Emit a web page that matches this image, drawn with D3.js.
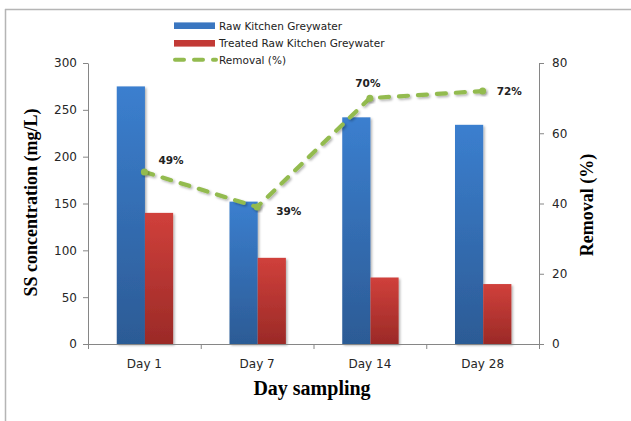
<!DOCTYPE html>
<html>
<head>
<meta charset="utf-8">
<script src="https://cdn.jsdelivr.net/npm/d3@7/dist/d3.min.js"></script>
<style>
  html, body { margin: 0; padding: 0; background: #fff; }
  svg { display: block; }
  .tick text { font-family: "DejaVu Sans", Verdana, sans-serif; font-size: 12px; fill: #262626; }
</style>
</head>
<body>
<svg id="chart" width="631" height="421"></svg>
<script>
// Suspended solids in kitchen greywater over the sampling period
const days = ["Day 1", "Day 7", "Day 14", "Day 28"];
const rawSS = [275, 152, 242, 234];
const treatedSS = [140, 92, 71, 64];
const removal = [49, 39, 70, 72];
const ssTicks = [0, 50, 100, 150, 200, 250, 300];
const removalTicks = [0, 20, 40, 60, 80];
const seriesNames = ["Raw Kitchen Greywater", "Treated Raw Kitchen Greywater", "Removal (%)"];

const svg = d3.select("#chart");
const plot = { left: 88, right: 539, top: 63, bottom: 344 };

const defs = svg.append("defs");
function gradient(id, top, bottom) {
  const g = defs.append("linearGradient").attr("id", id)
    .attr("x1", 0).attr("y1", 0).attr("x2", 0).attr("y2", 1);
  g.append("stop").attr("offset", "0%").attr("stop-color", top);
  g.append("stop").attr("offset", "100%").attr("stop-color", bottom);
}
gradient("gBlue", "#3b7fcf", "#2c5b95");
gradient("gRed", "#d0403b", "#9b2a27");
const sh = defs.append("filter").attr("id", "shadow")
  .attr("x", "-20%").attr("y", "-20%").attr("width", "150%").attr("height", "150%");
sh.append("feDropShadow").attr("dx", 1.5).attr("dy", 1.5)
  .attr("stdDeviation", 1.2).attr("flood-color", "#000").attr("flood-opacity", 0.3);

// Outer frame
svg.append("line").attr("x1", 5).attr("x2", 631).attr("y1", 9.5).attr("y2", 9.5)
  .attr("stroke", "#b5b5b5").attr("stroke-width", 1.5);
svg.append("line").attr("x1", 5.5).attr("x2", 5.5).attr("y1", 9).attr("y2", 421)
  .attr("stroke", "#b5b5b5").attr("stroke-width", 1.5);

// Scales
const x = d3.scaleBand().domain(days).range([plot.left, plot.right]).padding(0);
const bw = x.bandwidth();
const xSub = d3.scaleBand().domain([0, 1]).range([bw * 0.255, bw * 0.755]).padding(0);
const yL = d3.scaleLinear().domain([0, 300]).range([plot.bottom, plot.top]);
const yR = d3.scaleLinear().domain([0, 80]).range([plot.bottom, plot.top]);

// Bars
const bars = svg.append("g");
const seriesVals = [rawSS, treatedSS];
const fills = ["url(#gBlue)", "url(#gRed)"];
seriesVals.forEach((vals, si) => {
  bars.selectAll(null).data(vals).enter().append("rect")
    .attr("x", (d, i) => x(days[i]) + xSub(si))
    .attr("width", xSub.bandwidth())
    .attr("y", d => yL(d))
    .attr("height", d => yL(0) - yL(d))
    .attr("fill", fills[si])
    .attr("filter", "url(#shadow)");
});

// Axes
const axisColor = "#868686";
const gL = svg.append("g").attr("transform", `translate(${plot.left},0)`)
  .call(d3.axisLeft(yL).tickValues(ssTicks).tickSize(5).tickSizeOuter(0).tickPadding(6));
const gR = svg.append("g").attr("transform", `translate(${plot.right},0)`)
  .call(d3.axisRight(yR).tickValues(removalTicks).tickSize(5).tickSizeOuter(0).tickPadding(8));
const gX = svg.append("g").attr("transform", `translate(0,${plot.bottom})`)
  .call(d3.axisBottom(x).tickSize(0).tickPadding(15));
gX.select(".domain").remove();
[gL, gR].forEach(g => {
  g.select(".domain").attr("stroke", axisColor);
  g.selectAll(".tick line").attr("stroke", axisColor);
});
// category axis line with ticks on the category boundaries
svg.append("line").attr("x1", plot.left).attr("x2", plot.right)
  .attr("y1", plot.bottom + 0.5).attr("y2", plot.bottom + 0.5).attr("stroke", axisColor);
const bounds = days.map(d => x(d)).concat([x.range()[1]]);
svg.selectAll(null).data(bounds).enter().append("line")
  .attr("x1", d => d + 0.5).attr("x2", d => d + 0.5)
  .attr("y1", plot.bottom).attr("y2", plot.bottom + 5).attr("stroke", axisColor);

// Removal line
const cx = i => x(days[i]) + bw / 2;
const green = "#93bb4f";
const line = d3.line().x((d, i) => cx(i)).y(d => yR(d));
svg.append("path").datum(removal)
  .attr("d", line).attr("fill", "none")
  .attr("stroke", green).attr("stroke-width", 4.2)
  .attr("stroke-linecap", "round").attr("stroke-dasharray", "9,10")
  .attr("filter", "url(#shadow)");
svg.selectAll(null).data(removal).enter().append("circle")
  .attr("cx", (d, i) => cx(i)).attr("cy", d => yR(d)).attr("r", 3.5)
  .attr("fill", green).attr("filter", "url(#shadow)");

// Value labels beside each point
const labelOffset = [[14, -8, "start"], [19, 8, "start"], [-2, -11, "middle"], [14, 3.5, "start"]];
svg.selectAll(null).data(removal).enter().append("text")
  .attr("x", (d, i) => cx(i) + labelOffset[i][0])
  .attr("y", (d, i) => yR(d) + labelOffset[i][1])
  .attr("text-anchor", (d, i) => labelOffset[i][2])
  .attr("font-family", "DejaVu Sans, Verdana, sans-serif")
  .attr("font-size", "10.5px").attr("font-weight", "bold").attr("fill", "#222")
  .text(d => d + "%");

// Axis titles
const serif = "'Liberation Serif', 'Times New Roman', serif";
svg.append("text").attr("transform", "translate(37,202.5) rotate(-90)")
  .attr("text-anchor", "middle").attr("font-family", serif).attr("font-weight", "bold")
  .attr("font-size", "18px").attr("fill", "#000").text("SS concentration (mg/L)");
svg.append("text").attr("transform", "translate(593,205) rotate(-90)")
  .attr("text-anchor", "middle").attr("font-family", serif).attr("font-weight", "bold")
  .attr("font-size", "18px").attr("fill", "#000").text("Removal (%)");
svg.append("text").attr("x", 312).attr("y", 395)
  .attr("text-anchor", "middle").attr("font-family", serif).attr("font-weight", "bold")
  .attr("font-size", "20px").attr("fill", "#000").text("Day sampling");

// Legend
const legY = [25.7, 43.3, 59.8];
const leg = svg.append("g");
leg.append("rect").attr("x", 174).attr("y", legY[0] - 3.3).attr("width", 41).attr("height", 6.6).attr("fill", "#3a76c0");
leg.append("rect").attr("x", 174).attr("y", legY[1] - 3.3).attr("width", 41).attr("height", 6.6).attr("fill", "#c23a36");
leg.append("line").attr("x1", 175).attr("x2", 216).attr("y1", legY[2]).attr("y2", legY[2])
  .attr("stroke", green).attr("stroke-width", 4).attr("stroke-linecap", "round")
  .attr("stroke-dasharray", "9,10");
leg.selectAll(null).data(seriesNames).enter().append("text")
  .attr("x", 219).attr("y", (d, i) => legY[i] + 3.8)
  .attr("font-family", "DejaVu Sans, Verdana, sans-serif").attr("font-size", "10.5px")
  .attr("fill", "#222").text(d => d);
</script>
</body>
</html>
